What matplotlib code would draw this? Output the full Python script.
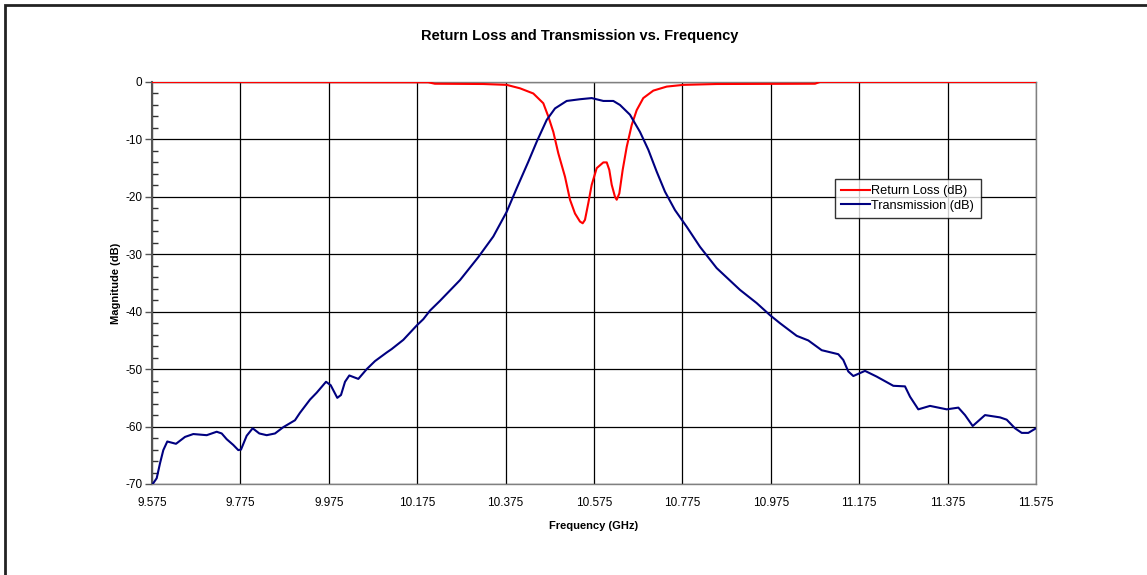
import numpy as np
import matplotlib.pyplot as plt
from matplotlib.patches import Rectangle
from matplotlib.ticker import MultipleLocator

plt.rcParams['font.family'] = ['Liberation Sans', 'DejaVu Sans']
plt.rcParams['axes.unicode_minus'] = False

# Transmission (dB)
tx_freq = [9.5766, 9.5856, 9.5931, 9.6006, 9.6096, 9.6293, 9.6497, 9.6684, 9.6988, 9.7214,
           9.7327, 9.7440, 9.7589, 9.7702, 9.7764, 9.7892, 9.8028, 9.8178, 9.8345, 9.8533,
           9.8721, 9.8985, 9.9098, 9.9325, 9.9476, 9.9687, 9.9793, 9.9942, 10.0026, 10.0117,
           10.0214, 10.0418, 10.0608, 10.0795, 10.1060, 10.1173, 10.1436, 10.1739, 10.1888, 10.2040,
           10.2266, 10.2341, 10.2718, 10.3132, 10.3472, 10.3775, 10.4001, 10.4263, 10.4454, 10.4680,
           10.4868, 10.5132, 10.5433, 10.5698, 10.5961, 10.6187, 10.6338, 10.6564, 10.6791, 10.6979,
           10.7168, 10.7356, 10.7582, 10.7847, 10.8148, 10.8525, 10.9053, 10.9431, 10.9732, 10.9958,
           11.0336, 11.0598, 11.0901, 11.1277, 11.1390, 11.1503, 11.1617, 11.1881, 11.2146, 11.2522,
           11.2786, 11.2900, 11.3087, 11.3352, 11.3730, 11.3993, 11.4144, 11.4318, 11.4596, 11.4936,
           11.5087, 11.5275, 11.5427, 11.5576, 11.5750]
tx_db = [-70.0, -69.0, -66.4, -64.1, -62.6, -63.0, -61.8, -61.3, -61.5, -60.9,
         -61.2, -62.2, -63.2, -64.1, -64.0, -61.6, -60.3, -61.2, -61.5, -61.2,
         -60.1, -58.9, -57.6, -55.3, -54.1, -52.2, -52.8, -55.0, -54.5, -52.2,
         -51.1, -51.7, -50.0, -48.6, -47.1, -46.5, -44.9, -42.4, -41.3, -39.8,
         -38.1, -37.5, -34.5, -30.5, -26.9, -22.6, -18.5, -13.9, -10.4, -6.6,
         -4.6, -3.3, -3.0, -2.8, -3.3, -3.3, -4.0, -5.7, -8.7, -11.8,
         -15.6, -19.1, -22.3, -25.2, -28.7, -32.4, -36.2, -38.5, -40.6, -42.0,
         -44.2, -45.0, -46.7, -47.4, -48.4, -50.4, -51.2, -50.3, -51.3, -52.9,
         -53.0, -54.8, -57.0, -56.4, -57.0, -56.7, -58.0, -59.9, -58.0, -58.4,
         -58.8, -60.3, -61.1, -61.1, -60.3]

# Return loss (dB)
rl_freq = [9.575, 10.200, 10.215, 10.3245, 10.3775, 10.4076, 10.4377, 10.4603, 10.4716, 10.4830,
           10.4942, 10.5094, 10.5207, 10.5320, 10.5433, 10.5494, 10.5546, 10.5621, 10.5698, 10.5811,
           10.5961, 10.6038, 10.6096, 10.6151, 10.6225, 10.6264, 10.6323, 10.6399, 10.6490, 10.6603,
           10.6716, 10.6865, 10.7092, 10.7395, 10.7771, 10.8525, 11.075, 11.086, 11.575]
rl_db = [0.0, -0.05, -0.3, -0.35, -0.5, -1.1, -2.0, -3.7, -6.0, -8.7,
         -12.4, -16.5, -20.5, -22.9, -24.3, -24.6, -24.0, -21.1, -17.9, -15.0,
         -14.0, -14.0, -15.3, -17.9, -20.0, -20.5, -19.4, -15.3, -11.3, -7.5,
         -4.9, -2.8, -1.5, -0.8, -0.5, -0.35, -0.3, 0.0, 0.0]

x_ticks = [9.575, 9.775, 9.975, 10.175, 10.375, 10.575, 10.775, 10.975, 11.175, 11.375, 11.575]
y_ticks = [0, -10, -20, -30, -40, -50, -60, -70]

fig = plt.figure(figsize=(11.47, 5.75), dpi=100)
ax = fig.add_axes([152 / 1147, 1 - 484 / 575, 884 / 1147, 402 / 575])

ax.plot(rl_freq, rl_db, color='#FF0000', lw=1.5, label='Return Loss (dB)', zorder=3)
ax.plot(tx_freq, tx_db, color='#000080', lw=1.5, label='Transmission (dB)', zorder=3)

ax.set_xlim(9.575, 11.575)
ax.set_ylim(-70, 0)
ax.set_xticks(x_ticks)
ax.set_xticklabels([f'{v:.3f}' for v in x_ticks])
ax.set_yticks(y_ticks)
ax.yaxis.set_minor_locator(MultipleLocator(2))
ax.grid(True, which='major', color='black', lw=0.9)
ax.set_axisbelow(True)

ax.tick_params(axis='x', length=0, pad=9, labelsize=8.5)
ax.tick_params(axis='y', which='major', direction='out', length=5, width=1, color='#555555', labelsize=8.5, pad=2)
ax.tick_params(axis='y', which='minor', direction='in', length=4, width=1, color='#333333')
for side in ['left', 'bottom', 'right', 'top']:
    ax.spines[side].set_color('#808080')
    ax.spines[side].set_linewidth(1)
ax.spines['left'].set_color('#555555')
ax.spines['left'].set_linewidth(1.5)

fig.text(579.5 / 1147, 1 - 36 / 575, 'Return Loss and Transmission vs. Frequency',
         fontsize=10.5, fontweight='bold', ha='center', va='center')
ax.set_xlabel('Frequency (GHz)', fontsize=8, fontweight='bold', labelpad=9)
ax.set_ylabel('Magnitude (dB)', fontsize=8, fontweight='bold', labelpad=3)

leg = ax.legend(loc='upper left', bbox_to_anchor=(835 / 1147, 1 - 179 / 575),
                bbox_transform=fig.transFigure, fontsize=9.2, frameon=True, fancybox=False,
                handlelength=2.2, handletextpad=0.15, borderpad=0.5, labelspacing=0.2,
                borderaxespad=0)
leg.get_frame().set_edgecolor('black')
leg.get_frame().set_linewidth(1)

# outer chart frame (open on right and bottom edges of the image)
fig.patches.append(Rectangle((5 / 1147, -0.1), 1.2, 1 - 5 / 575 + 0.1, transform=fig.transFigure,
                             fill=False, edgecolor='#222222', lw=2))

fig.savefig('out.png', dpi=100)
